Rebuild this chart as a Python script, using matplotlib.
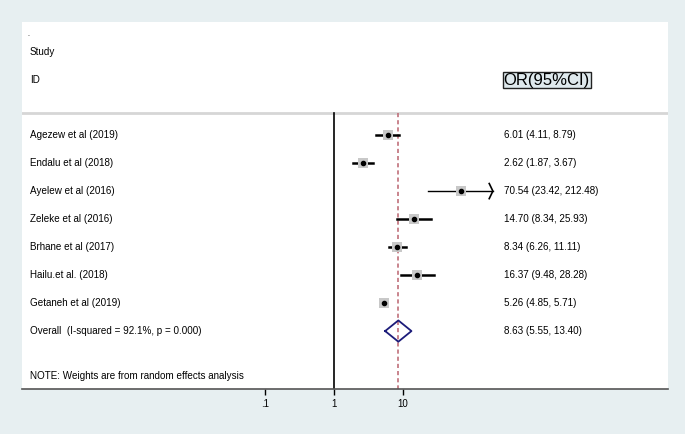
#forest plot of pooled odds ratios (random effects)

import numpy as np
import matplotlib.pyplot as plt
from matplotlib.transforms import blended_transform_factory

studies = ['Agezew et al (2019)', 'Endalu et al (2018)', 'Ayelew et al (2016)',
           'Zeleke et al (2016)', 'Brhane et al (2017)', 'Hailu.et al. (2018)',
           'Getaneh et al (2019)']
odds = [6.01, 2.62, 70.54, 14.70, 8.34, 16.37, 5.26]
lower = [4.11, 1.87, 23.42, 8.34, 6.26, 9.48, 4.85]
upper = [8.79, 3.67, 212.48, 25.93, 11.11, 28.28, 5.71]

overall = 8.63
overall_lo = 5.55
overall_hi = 13.40
overall_label = 'Overall  (I-squared = 92.1%, p = 0.000)'

tick_vals = [0.1, 1, 10]
tick_labels = ['.1', '1', '10']

clip = 205  # arrow drawn past this

plt.rcParams['font.family'] = ['Liberation Sans', 'DejaVu Sans']

fig = plt.figure(figsize=(6.85, 4.34), dpi=100)
fig.patch.set_facecolor('#e7eff1')

W, H = 685, 434
ax = fig.add_axes([22 / W, 1 - 389 / H, (668 - 22) / W, (389 - 22) / H])
ax.set_facecolor('white')
ax.set_xscale('log')
ax.set_xlim(10 ** -4.54, 10 ** 4.86)
ax.set_ylim(9.07, -4.04)

for s in ['top', 'right', 'left']:
    ax.spines[s].set_visible(False)
ax.spines['bottom'].set_color('#555555')
ax.spines['bottom'].set_linewidth(1.2)
ax.set_yticks([])
ax.set_xticks(tick_vals)
ax.set_xticklabels(tick_labels, fontsize=7)
ax.xaxis.set_minor_locator(plt.NullLocator())
ax.tick_params(axis='x', length=4, width=1, color='black', pad=3)

tr = blended_transform_factory(ax.transAxes, ax.transData)

# header
ax.axhline(-0.79, color='#d6d6d6', linewidth=2)
ax.text(0.008, -3.6, '.', transform=tr, fontsize=5, va='center', color='black')
ax.text(0.0124, -2.96, 'Study', transform=tr, fontsize=7.1, va='center')
ax.text(0.0124, -1.96, 'ID', transform=tr, fontsize=7.1, va='center')
ax.text(0.7455, -1.96, 'OR(95%CI)', transform=tr, fontsize=12, va='center',
        bbox=dict(boxstyle='square,pad=0.04', facecolor='#dfe9ed',
                  edgecolor='#222222', linewidth=1))

# null line and overall line
ax.plot([1, 1], [-0.79, 9.07], color='black', linewidth=1.2)
ax.plot([overall, overall], [-0.79, 9.07], color='#c0707a',
        linewidth=1.2, linestyle=(0, (2.5, 1.8)))

for i, name in enumerate(studies):
    ax.text(0.0124, i, name, transform=tr, fontsize=7.1, va='center')
    ax.text(0.7455, i, '%.2f (%.2f, %.2f)' % (odds[i], lower[i], upper[i]),
            transform=tr, fontsize=7.1, va='center')
    if upper[i] > clip:
        ax.plot([lower[i], clip], [i, i], color='black', linewidth=1)
        ax.plot([clip / 1.13, clip, clip / 1.13], [i - 0.27, i, i + 0.27],
                color='black', linewidth=1.2)
    else:
        ax.plot([lower[i], upper[i]], [i, i], color='black', linewidth=1.8,
                zorder=2)
    ax.plot(odds[i], i, marker='s', markersize=7, color='#c8c8c8',
            markeredgewidth=0, zorder=3, snap=False)
    ax.plot(odds[i], i, marker='o', markersize=3, color='black', zorder=4,
            snap=False)

# pooled diamond
k = len(studies)
ax.plot([overall_lo, overall, overall_hi, overall, overall_lo],
        [k, k - 0.38, k, k + 0.38, k], color='#1c1c7a', linewidth=1.3)
ax.text(0.0124, k, overall_label, transform=tr, fontsize=7.1, va='center')
ax.text(0.7455, k, '%.2f (%.2f, %.2f)' % (overall, overall_lo, overall_hi),
        transform=tr, fontsize=7.1, va='center')

ax.text(0.0124, 8.6, 'NOTE: Weights are from random effects analysis',
        transform=tr, fontsize=7.1, va='center')

plt.savefig('out.png', dpi=100, facecolor=fig.get_facecolor())
